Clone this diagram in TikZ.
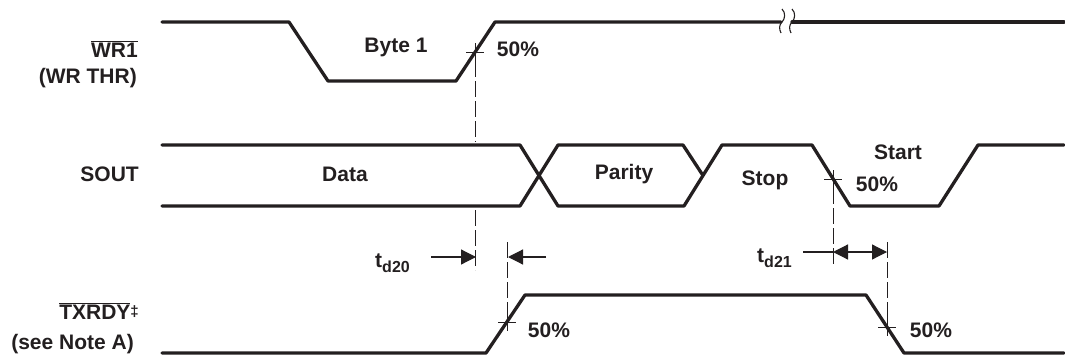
\documentclass[tikz,border=0pt]{standalone}
\usepackage{fontspec}
\setmainfont{Liberation Sans}
\usetikzlibrary{arrows.meta}
\definecolor{ink}{RGB}{35,31,32}
\begin{document}
\begin{tikzpicture}[x=1pt,y=-1pt,
  wave/.style={draw=ink, line width=3.3pt, line join=round, line cap=round},
  brk/.style={draw=ink, line width=1.1pt},
  guide/.style={draw=ink, line width=0.9pt, dash pattern=on 16pt off 4pt},
  tickmark/.style={draw=ink, line width=0.9pt},
  meas/.style={draw=ink, line width=1.2pt},
  tip/.tip={Triangle[length=15pt,width=15pt]},
  lbl/.style={font=\bfseries\fontsize{21}{23}\selectfont, text=ink, inner sep=0pt, text height=15pt, text depth=0pt}
]
\useasboundingbox (0,0) rectangle (1065,356);

% ---------- WR1 waveform ----------
\draw[wave] (162,22) -- (289,22) -- (328,81) -- (456,81) -- (495,22) -- (781,22);
\draw[wave] (792,22) -- (1064,22);
\draw[brk] (782,9) .. controls (786,13) and (785,19) .. (782,22) .. controls (779,25) and (779,29) .. (781,33);
\draw[brk] (792,9) .. controls (796,13) and (795,19) .. (792,22) .. controls (789,25) and (789,29) .. (791,33);

% ---------- SOUT waveform ----------
\draw[wave] (162,145) -- (520,145) -- (558,206) -- (684,206) -- (722,145) -- (812,145)
  -- (850,206) -- (939,206) -- (978,145) -- (1064,145);
\draw[wave] (162,206) -- (520,206) -- (558,145) -- (683,145) -- (703,175.5);

% ---------- TXRDY waveform ----------
\draw[wave] (162,353) -- (486,353) -- (525,295) -- (866,295) -- (904,353) -- (1064,353);

% ---------- 50% crossing points ----------
\coordinate (c1) at (475,52);
\coordinate (c2) at (833,179);
\coordinate (c3) at (507,322);
\coordinate (c4) at (887,327);
\foreach \c in {c1,c2,c3,c4}{
  \draw[tickmark] (\c) ++(-9,0) -- ++(18,0);
  \draw[tickmark] (\c) ++(0,-9) -- ++(0,18);
}

% ---------- dashed guides ----------
\coordinate (g1a) at (475,61);  \coordinate (g1b) at (475,142);
\coordinate (g1c) at (475,210); \coordinate (g1d) at (475,270);
\coordinate (g2a) at (507,242); \coordinate (g2b) at (507,313);
\coordinate (g3a) at (833,188); \coordinate (g3b) at (833,266);
\coordinate (g4a) at (887,242); \coordinate (g4b) at (887,318);
\draw[guide] (g1a) -- (g1b);
\draw[guide] (g1c) -- (g1d);
\draw[guide] (g2a) -- (g2b);
\draw[guide] (g3a) -- (g3b);
\draw[guide] (g4a) -- (g4b);

% ---------- measurement arrows ----------
\coordinate (a1s) at (431,257); \coordinate (a1e) at (476,257);
\coordinate (a2s) at (546,257); \coordinate (a2e) at (508,257);
\coordinate (a3s) at (803,252); \coordinate (a3e) at (833,252);
\coordinate (a4e) at (887,252);
\draw[meas,-tip] (a1s) -- (a1e);
\draw[meas,-tip] (a2s) -- (a2e);
\draw[meas] (a3s) -- (a3e);
\draw[meas,tip-tip] (a3e) -- (a4e);

% ---------- signal names ----------
\node[lbl, anchor=east] (nwr) at (138,50) {$\overline{\mbox{WR1}}$};
\node[lbl, anchor=east] (nwrthr) at (137,76) {(WR THR)};
\node[lbl, anchor=east] (nsout) at (139,174) {SOUT};
\node[lbl, anchor=east] (ntx) at (139,312) {$\overline{\mbox{TXRDY}}$\raisebox{3pt}{\fontsize{15}{15}\selectfont ‡}};
\node[lbl, anchor=east] (nnote) at (134,342) {(see Note A)};

% ---------- in-diagram labels ----------
\node[lbl] (byte) at (396,45) {Byte 1};
\node[lbl] (p1) at (518,49) {50\%};
\node[lbl] (data) at (345,174) {Data};
\node[lbl] (parity) at (624,172) {Parity};
\node[lbl] (stop) at (765,178) {Stop};
\node[lbl] (start) at (898,152) {Start};
\node[lbl] (p2) at (877,184) {50\%};
\node[lbl] (p3) at (549,330) {50\%};
\node[lbl] (p4) at (931,330) {50\%};
\node[lbl, anchor=east] (td20) at (410,260) {t\raisebox{-5pt}{\fontsize{16}{17}\selectfont d20}};
\node[lbl, anchor=east] (td21) at (792,255) {t\raisebox{-5pt}{\fontsize{16}{17}\selectfont d21}};
\end{tikzpicture}
\end{document}
